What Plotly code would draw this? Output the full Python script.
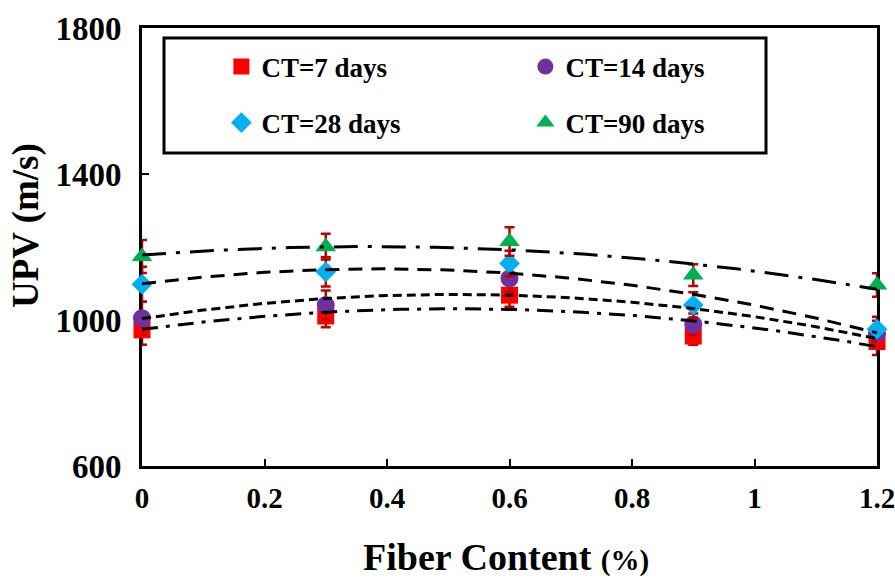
import numpy as np
import plotly.graph_objects as go

# Fiber content (%) and UPV readings (m/s) for each curing time
fiber = [0, 0.3, 0.6, 0.9, 1.2]
upv_7 = [973, 1011, 1068, 956, 941]
upv_14 = [1005, 1041, 1114, 988, 963]
upv_28 = [1098, 1132, 1155, 1041, 975]
upv_90 = [1174, 1201, 1215, 1123, 1096]
err_7 = [41, 31, 32, 24, 37]
err_14 = [45, 40, 38, 30, 35]
err_28 = [48, 40, 35, 35, 34]
err_90 = [45, 35, 39, 30, 32]

names = ["CT=7 days", "CT=14 days", "CT=28 days", "CT=90 days"]
x_ticks = [0, 0.2, 0.4, 0.6, 0.8, 1, 1.2]
x_tick_text = ["0", "0.2", "0.4", "0.6", "0.8", "1", "1.2"]
y_ticks = [600, 1000, 1400, 1800]
y_tick_text = ["600", "1000", "1400", "1800"]

FONT = "Liberation Serif"


def bold(s):
    return "<b>" + s + "</b>"


series = [
    (names[0], upv_7, err_7, "square", "#FF0000", 17, "16px,8px,4px,8px", "legend"),
    (names[1], upv_14, err_14, "circle", "#7030A0", 18, "9px,5px", "legend"),
    (names[2], upv_28, err_28, "diamond", "#00B0F0", 16, "14px,9px", "legend2"),
    (names[3], upv_90, err_90, "triangle-up", "#00B050", 18, "24px,10px,4px,10px", "legend2"),
]

fig = go.Figure()

for name, vals, errs, sym, col, size, dash, leg in series:
    fig.add_trace(go.Scatter(
        x=fiber, y=vals, mode="markers", name=bold(name), legend=leg,
        marker=dict(symbol=sym, color=col, size=size, line=dict(width=0)),
        error_y=dict(type="data", array=errs, visible=True,
                     color="#C00000", thickness=2.5, width=5),
        cliponaxis=False,
    ))

# Second-order polynomial trend line for each series
xf = np.linspace(0, 1.2, 121)
for name, vals, errs, sym, col, size, dash, leg in series:
    coef = np.polyfit(fiber, vals, 2)
    fig.add_trace(go.Scatter(
        x=xf, y=np.polyval(coef, xf), mode="lines", showlegend=False,
        line=dict(color="black", width=3, dash=dash), hoverinfo="skip",
        cliponaxis=False,
    ))

leg_common = dict(
    orientation="h", xanchor="left", yanchor="middle",
    entrywidth=259, entrywidthmode="pixels",
    bgcolor="rgba(0,0,0,0)", borderwidth=0,
    font=dict(family=FONT, size=27, color="black"),
)

axis_common = dict(
    showline=True, linecolor="black", linewidth=3, mirror=True,
    ticks="inside", ticklen=7, tickwidth=2, tickcolor="black",
    showgrid=False, zeroline=False, layer="below traces",
    ticklabeloverflow="allow", automargin=False,
)

fig.update_layout(
    font=dict(family=FONT, size=28, color="black"),
    width=895, height=578,
    margin=dict(l=142, r=18, t=28, b=112),
    paper_bgcolor="white", plot_bgcolor="white",
    showlegend=True,
    legend=dict(x=0.108, y=0.911, **leg_common),
    legend2=dict(x=0.108, y=0.783, **leg_common),
    xaxis=dict(range=[0, 1.2], tickvals=x_ticks,
               ticktext=[bold(t) for t in x_tick_text],
               tickfont=dict(family=FONT, size=29, color="black"),
               ticklabelstandoff=4, **axis_common),
    yaxis=dict(range=[600, 1800], tickvals=y_ticks,
               ticktext=[bold(t) for t in y_tick_text],
               tickfont=dict(family=FONT, size=33, color="black"),
               ticklabelstandoff=11, **axis_common),
    shapes=[dict(
        type="rect", xref="paper", yref="paper",
        x0=(164 - 142) / 735, x1=(766 - 142) / 735,
        y0=(466 - 153) / 438, y1=(466 - 38) / 438,
        line=dict(color="black", width=3), fillcolor="rgba(0,0,0,0)",
    )],
    annotations=[
        dict(text="<b>Fiber Content <span style='font-size:29px'>(%)</span></b>",
             xref="paper", yref="paper", x=0.495, y=-0.208, yanchor="middle",
             xanchor="center", showarrow=False,
             font=dict(family=FONT, size=38, color="black")),
        dict(text="<b>UPV (m/s)</b>", textangle=-90,
             xref="paper", yref="paper", x=-0.158, y=0.55, xanchor="center",
             yanchor="middle", showarrow=False,
             font=dict(family=FONT, size=37, color="black")),
    ],
)

fig.write_html("out.html")
